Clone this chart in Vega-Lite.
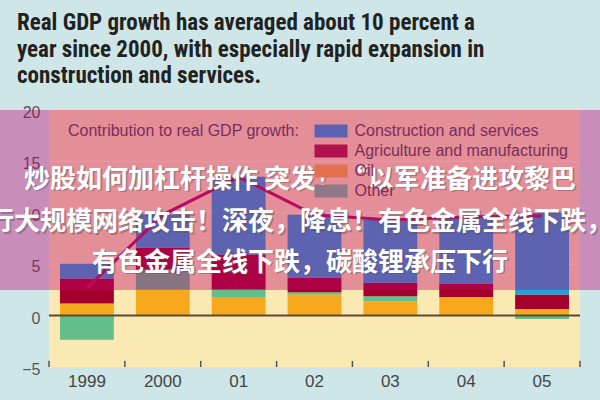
{
  "$schema": "https://vega.github.io/schema/vega-lite/v6.json",
  "width": 531,
  "height": 257,
  "autosize": {"type": "none"},
  "padding": {"left": 49, "top": 110, "right": 20, "bottom": 33},
  "background": "#cfe6e8",
  "view": {"fill": "#fae9b3", "stroke": null},
  "config": {"font": "Liberation Sans"},
  "title": {
    "text": ["Real GDP growth has averaged about 10 percent a", "year since 2000, with especially rapid expansion in", "construction and services."],
    "anchor": "start",
    "frame": "group",
    "dx": -32,
    "font": "Roboto Condensed, Roboto",
    "fontSize": 23,
    "fontWeight": "bold",
    "color": "#222222",
    "lineHeight": 26.7,
    "offset": 16
  },
  "datasets": {
    "bars": [
      {"year": "1999", "cat": "Oil", "value": 1.17},
      {"year": "1999", "cat": "Other", "value": -2.34},
      {"year": "1999", "cat": "Agriculture and manufacturing", "value": 2.43},
      {"year": "1999", "cat": "Construction and services", "value": 1.44},
      {"year": "2000", "cat": "Oil", "value": 2.53},
      {"year": "2000", "cat": "Other", "value": 1.95},
      {"year": "2000", "cat": "Agriculture and manufacturing", "value": 2.12},
      {"year": "2000", "cat": "Construction and services", "value": 3.24},
      {"year": "01", "cat": "Oil", "value": 1.82},
      {"year": "01", "cat": "Other", "value": 0.71},
      {"year": "01", "cat": "Agriculture and manufacturing", "value": 3.42},
      {"year": "01", "cat": "Construction and services", "value": 7.55},
      {"year": "02", "cat": "Oil", "value": 2.05},
      {"year": "02", "cat": "Other", "value": 0.22},
      {"year": "02", "cat": "Agriculture and manufacturing", "value": 1.4},
      {"year": "02", "cat": "Construction and services", "value": 6.13},
      {"year": "03", "cat": "Oil", "value": 1.4},
      {"year": "03", "cat": "Other", "value": 0.48},
      {"year": "03", "cat": "Agriculture and manufacturing", "value": 1.31},
      {"year": "03", "cat": "Construction and services", "value": 6.11},
      {"year": "04", "cat": "Oil", "value": 1.82},
      {"year": "04", "cat": "Other", "value": 0.0},
      {"year": "04", "cat": "Agriculture and manufacturing", "value": 1.3},
      {"year": "04", "cat": "Construction and services", "value": 6.48},
      {"year": "05", "cat": "Oil", "value": 0.65},
      {"year": "05", "cat": "Other", "value": -0.32},
      {"year": "05", "cat": "Agriculture and manufacturing", "value": 1.4},
      {"year": "05", "cat": "Construction and services", "value": 7.95}
    ],
    "gdp": [
      {"year": "1999", "growth": 2.7},
      {"year": "2000", "growth": 9.8},
      {"year": "01", "growth": 13.5},
      {"year": "02", "growth": 9.8},
      {"year": "03", "growth": 9.3},
      {"year": "04", "growth": 9.6},
      {"year": "05", "growth": 9.7}
    ],
    "gridVals": [{"g": 5}, {"g": 10}, {"g": 15}],
    "legendCats": [
      {"cat": "Construction and services"},
      {"cat": "Agriculture and manufacturing"},
      {"cat": "Oil"},
      {"cat": "Other"}
    ],
    "overlayText": [
      {"t": "炒股如何加杠杆操作 突发！“以军准备进攻黎巴", "v": 13.2},
      {"t": "行大规模网络攻击！深夜，降息！有色金属全线下跌，", "v": 9.06},
      {"t": "有色金属全线下跌，碳酸锂承压下行", "v": 5.16}
    ]
  },
  "layer": [
    {
      "data": {"name": "legendCats"},
      "mark": {"type": "square", "filled": true, "opacity": 0, "size": 1},
      "encoding": {
        "color": {
          "field": "cat", "type": "nominal",
          "scale": {
            "domain": ["Construction and services", "Agriculture and manufacturing", "Oil", "Other"],
            "range": ["#5d62b3", "#b0124f", "#e2704f", "#907888"]
          },
          "legend": {
            "orient": "none", "legendX": 19, "legendY": 13,
            "title": "Contribution to real GDP growth:", "titleOrient": "left",
            "titleAnchor": "start", "titleBaseline": "top",
            "titleFontSize": 16, "titleFontWeight": "normal", "titleColor": "#7a2d5c",
            "titlePadding": 23, "titleLimit": 400,
            "labelFontSize": 16, "labelColor": "#7a2d5c", "labelOffset": 15.5, "labelLimit": 400,
            "symbolType": "M-4.125,-1.6H4.125V1.6H-4.125Z", "symbolSize": 64, "symbolStrokeWidth": 0,
            "symbolOpacity": 1, "rowPadding": 4
          }
        }
      }
    },
    {
      "data": {"name": "gridVals"},
      "mark": {"type": "rule", "color": "#ffffff", "strokeWidth": 1, "opacity": 0.6},
      "encoding": {"y": {"field": "g", "type": "quantitative", "scale": {"domain": [-5, 20], "nice": false}}}
    },
    {
      "data": {"name": "bars"},
      "transform": [
        {"calculate": "indexof(['Oil','Other','Agriculture and manufacturing','Construction and services'], datum.cat)", "as": "ord"}
      ],
      "mark": {"type": "bar"},
      "encoding": {
        "x": {
          "field": "year", "type": "nominal",
          "sort": ["1999", "2000", "01", "02", "03", "04", "05"],
          "scale": {"paddingInner": 0.29, "paddingOuter": 0.145},
          "axis": {
            "title": null, "domain": false, "ticks": false,
            "labelFontSize": 17, "labelColor": "#444444", "labelPadding": 6, "labelAngle": 0
          }
        },
        "y": {
          "field": "value", "type": "quantitative",
          "scale": {"domain": [-5, 20], "nice": false},
          "axis": {
            "title": null, "values": [-5, 0, 5, 10, 15, 20], "domain": false, "ticks": false,
            "grid": false,
            "labelFontSize": 16, "labelColor": "#555555", "labelPadding": 9, "labelOffset": 2.5
          }
        },
        "color": {
          "field": "cat", "type": "nominal",
          "scale": {
            "domain": ["Construction and services", "Agriculture and manufacturing", "Oil", "Other"],
            "range": ["#1ea0dc", "#a3002c", "#f6a91d", "#64be8c"]
          },
          "legend": null
        },
        "order": {"field": "ord", "type": "quantitative"}
      }
    },
    {
      "data": {"name": "gdp"},
      "mark": {"type": "rule", "color": "#555555", "strokeWidth": 1.5},
      "encoding": {
        "x": {
          "field": "year", "type": "nominal", "bandPosition": -0.204,
          "sort": ["1999", "2000", "01", "02", "03", "04", "05"],
          "scale": {"type": "band", "paddingInner": 0.29, "paddingOuter": 0.145},
          "axis": null
        },
        "y": {"datum": -5, "type": "quantitative", "scale": {"domain": [-5, 20], "nice": false}},
        "y2": {"datum": -4.4}
      }
    },
    {
      "data": {"name": "gdp"},
      "transform": [{"filter": "datum.year === '05'"}],
      "mark": {"type": "rule", "color": "#555555", "strokeWidth": 1.5},
      "encoding": {
        "x": {
          "field": "year", "type": "nominal", "bandPosition": 1.204,
          "sort": ["1999", "2000", "01", "02", "03", "04", "05"],
          "scale": {"type": "band", "paddingInner": 0.29, "paddingOuter": 0.145, "domain": ["1999", "2000", "01", "02", "03", "04", "05"]},
          "axis": null
        },
        "y": {"datum": -5, "type": "quantitative", "scale": {"domain": [-5, 20], "nice": false}},
        "y2": {"datum": -4.4}
      }
    },
    {
      "data": {"values": [{}]},
      "mark": {"type": "rule", "color": "#5a4a35", "strokeWidth": 2},
      "encoding": {"y": {"datum": 0, "type": "quantitative", "scale": {"domain": [-5, 20], "nice": false}}}
    },
    {
      "data": {"name": "gdp"},
      "mark": {"type": "line", "color": "#b5105a", "strokeWidth": 3},
      "encoding": {
        "x": {
          "field": "year", "type": "nominal",
          "sort": ["1999", "2000", "01", "02", "03", "04", "05"],
          "scale": {"type": "band", "paddingInner": 0.29, "paddingOuter": 0.145},
          "axis": null
        },
        "y": {"field": "growth", "type": "quantitative", "scale": {"domain": [-5, 20], "nice": false}}
      }
    },
    {
      "data": {"values": [{}]},
      "mark": {"type": "rect", "color": "#c00070", "opacity": 0.39},
      "encoding": {
        "x": {"datum": -0.1, "type": "quantitative", "scale": {"domain": [0, 1], "nice": false, "zero": false}, "axis": null},
        "x2": {"datum": 1.1},
        "y": {"datum": 20, "type": "quantitative", "scale": {"domain": [-5, 20], "nice": false}},
        "y2": {"datum": 2.5}
      }
    },
    {
      "data": {"name": "overlayText"},
      "mark": {"type": "text", "font": "Noto Sans CJK SC", "fontWeight": "bold", "fontSize": 26, "color": "#555555", "opacity": 0.45, "dx": -13, "dy": 1.5, "baseline": "middle", "align": "center"},
      "encoding": {
        "y": {"field": "v", "type": "quantitative", "scale": {"domain": [-5, 20], "nice": false}},
        "text": {"field": "t"}
      }
    },
    {
      "data": {"name": "overlayText"},
      "mark": {"type": "text", "font": "Noto Sans CJK SC", "fontWeight": "bold", "fontSize": 26, "color": "#ffffff", "dx": -14.5, "baseline": "middle", "align": "center"},
      "encoding": {
        "y": {"field": "v", "type": "quantitative", "scale": {"domain": [-5, 20], "nice": false}},
        "text": {"field": "t"}
      }
    }
  ],
  "resolve": {"scale": {"x": "independent", "color": "independent"}}
}
